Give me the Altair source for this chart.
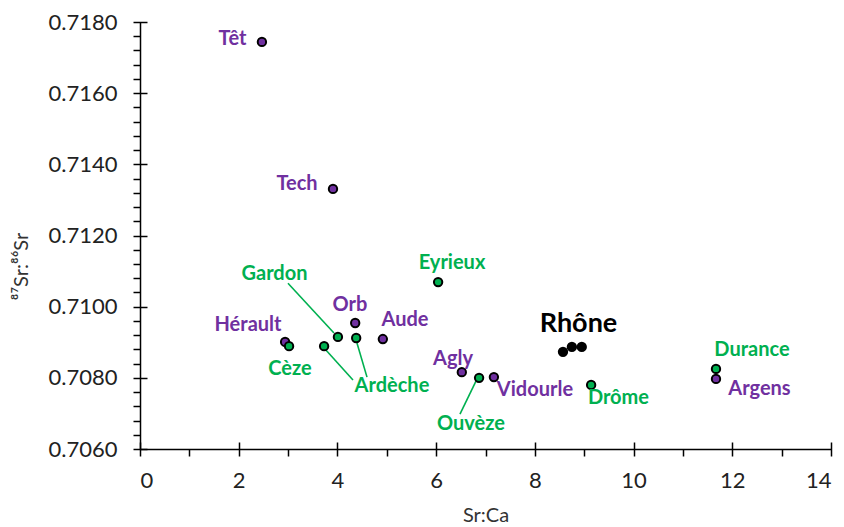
import altair as alt
import pandas as pd

# ---- data ----
point_names = ["Têt", "Tech", "Hérault", "Cèze", "Ardèche", "Gardon", "Orb", "Ardèche",
               "Aude", "Eyrieux", "Agly", "Ouvèze", "Vidourle", "Rhône", "Rhône", "Rhône",
               "Drôme", "Durance", "Argens"]
point_group = ["west", "west", "west", "east", "east", "east", "west", "east",
               "west", "east", "west", "east", "west", "rhone", "rhone", "rhone",
               "east", "east", "west"]
sr_ca = [2.47, 3.91, 2.94, 3.02, 3.73, 4.01, 4.36, 4.38,
         4.92, 6.04, 6.52, 6.87, 7.17, 8.57, 8.75, 8.95,
         9.14, 11.67, 11.67]
sr_ratio = [0.71744, 0.71331, 0.70901, 0.70889, 0.70889, 0.70915, 0.70954, 0.70912,
            0.70909, 0.71069, 0.70816, 0.70800, 0.70802, 0.70873, 0.70887, 0.70887,
            0.70780, 0.70825, 0.70797]

label_names = ["Têt", "Tech", "Gardon", "Eyrieux", "Orb", "Hérault", "Aude", "Cèze",
               "Ardèche", "Agly", "Ouvèze", "Rhône", "Durance", "Argens", "Vidourle", "Drôme"]
label_group = ["west", "west", "east", "east", "west", "west", "west", "east",
               "east", "west", "east", "rhone", "east", "west", "west", "east"]
label_x = [1.874, 3.181, 2.725, 6.321, 4.254, 2.188, 5.369, 3.039,
           5.105, 6.341, 6.706, 8.884, 12.399, 12.551, 8.002, 9.694]
label_y = [0.717522, 0.713447, 0.710918, 0.711227, 0.710047, 0.709485, 0.709625, 0.708248,
           0.707770, 0.708529, 0.706702, 0.709513, 0.708782, 0.707686, 0.707658, 0.707433]

leader_x1 = [2.998, 4.315, 4.599, 6.483]
leader_y1 = [0.71066, 0.70794, 0.70802, 0.70698]
leader_x2 = [3.93, 3.748, 4.396, 6.807]
leader_y2 = [0.70926, 0.70881, 0.70898, 0.70791]

x_major = [0, 2, 4, 6, 8, 10, 12, 14]
x_minor = [1, 3, 5, 7, 9, 11, 13]
y_major = [0.706, 0.708, 0.710, 0.712, 0.714, 0.716, 0.718]
y_minor = [round(0.706 + 0.0004 * i, 4) for i in range(31) if i % 5 != 0]

groups = ["west", "east", "rhone"]
group_colors = ["#7030A0", "#00B050", "#000000"]

points = pd.DataFrame({"name": point_names, "group": point_group,
                       "sr_ca": sr_ca, "sr_ratio": sr_ratio})
labels = pd.DataFrame({"label": label_names, "group": label_group,
                       "lx": label_x, "ly": label_y})
leaders = pd.DataFrame({"x1": leader_x1, "y1": leader_y1,
                        "x2": leader_x2, "y2": leader_y2})

FONT = "Lato"
xs = alt.Scale(domain=[0, 14], nice=False, zero=False)
ys = alt.Scale(domain=[0.706, 0.718], nice=False, zero=False)
cs = alt.Scale(domain=groups, range=group_colors)

main_x = alt.Axis(values=x_major, format="d", ticks=False, tickSize=0, grid=False,
                  domainColor="black", domainWidth=1.5, labelFont=FONT, labelFontSize=22,
                  labelColor="#222222", labelPadding=21, title="Sr:Ca", titleFont=FONT,
                  titleFontSize=20, titleFontWeight="normal", titleColor="#333333",
                  titleBaseline="alphabetic", titleY=72, orient="bottom")
main_y = alt.Axis(values=y_major, format=".4f", ticks=False, tickSize=0, grid=False,
                  domainColor="black", domainWidth=1.5, labelFont=FONT, labelFontSize=22,
                  labelColor="#222222", labelPadding=23, title="⁸⁷Sr:⁸⁶Sr", titleFont=FONT,
                  titleFontSize=20, titleFontWeight="normal", titleColor="#333333",
                  titleX=-119, titleY=244, titleAlign="center", titleBaseline="middle",
                  titleAngle=270, orient="left")
major_x = alt.Axis(values=x_major, labels=False, domain=False, grid=False, tickSize=14,
                   tickColor="black", tickWidth=1.5, offset=-7, title=None, orient="bottom")
major_y = alt.Axis(values=y_major, labels=False, domain=False, grid=False, tickSize=14,
                   tickColor="black", tickWidth=1.5, offset=-7, title=None, orient="left")
minor_x = alt.Axis(values=x_minor, labels=False, domain=False, grid=False, tickSize=7,
                   tickColor="black", tickWidth=1.5, title=None, orient="bottom")
minor_y = alt.Axis(values=y_minor, labels=False, domain=False, grid=False, tickSize=7,
                   tickColor="black", tickWidth=1.5, title=None, orient="left")

lines = alt.Chart(leaders).mark_rule(color="#00B050", strokeWidth=1.6).encode(
    x=alt.X("x1:Q", scale=xs, axis=minor_x),
    y=alt.Y("y1:Q", scale=ys, axis=minor_y),
    x2="x2:Q", y2="y2:Q")

dots = alt.Chart(points).mark_point(filled=True, shape="circle", size=70, opacity=1,
                                    stroke="black", strokeWidth=2).encode(
    x=alt.X("sr_ca:Q", scale=xs, axis=main_x),
    y=alt.Y("sr_ratio:Q", scale=ys, axis=main_y),
    fill=alt.Fill("group:N", scale=cs, legend=None))

texts = alt.Chart(labels).mark_text(font=FONT, fontWeight="bold", align="center",
                                    baseline="middle").encode(
    x=alt.X("lx:Q", scale=xs, axis=major_x),
    y=alt.Y("ly:Q", scale=ys, axis=major_y),
    text="label:N",
    color=alt.Color("group:N", scale=cs, legend=None),
    size=alt.condition("datum.label === 'Rhône'", alt.value(27), alt.value(20)))

chart = alt.layer(lines, dots, texts).resolve_axis(x="independent", y="independent").properties(
    width=691, height=427,
    autosize=alt.AutoSizeParams(type="none"),
    padding={"left": 132, "top": 14, "right": 4, "bottom": 78},
    background="white",
).configure_view(stroke=None)

chart.save("out.html", embed_options={"renderer": "svg", "actions": False})
